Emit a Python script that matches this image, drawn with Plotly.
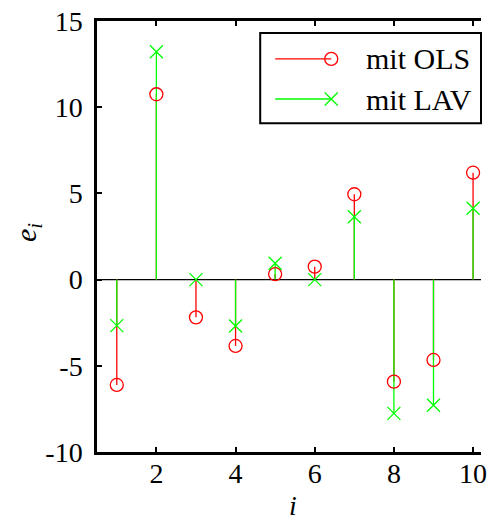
import plotly.graph_objects as go

idx = [1, 2, 3, 4, 5, 6, 7, 8, 9, 10]
ols = [-6.11, 10.75, -2.19, -3.85, 0.32, 0.75, 4.95, -5.92, -4.66, 6.2]
lav = [-2.67, 13.22, 0.0, -2.69, 0.95, 0.0, 3.65, -7.76, -7.29, 4.14]
names = ["mit OLS", "mit LAV"]
colors = ["#ff0000", "#00ff00"]
symbols = ["circle-open", "x-thin-open"]
xticks = [2, 4, 6, 8, 10]
yticks = [-10, -5, 0, 5, 10, 15]
ytick_text = ["-10", "-5", "0", "5", "10", "15"]

FONT = "'Liberation Serif', 'DejaVu Serif', serif"
FS = 28

def stems(xs, ys):
    sx, sy = [], []
    for a, b in zip(xs, ys):
        sx += [a, a, None]
        sy += [0, b, None]
    return sx, sy

fig = go.Figure()
for ser, col in zip([ols, lav], colors):
    sx, sy = stems(idx, ser)
    fig.add_trace(go.Scatter(x=sx, y=sy, mode="lines", line=dict(color=col, width=1.3),
                             showlegend=False, hoverinfo="skip"))
for ser, col, sym, nm in zip([ols, lav], colors, symbols, names):
    fig.add_trace(go.Scatter(x=idx, y=ser, mode="markers", name=nm, showlegend=False,
                             marker=dict(symbol=sym, size=13, color=col,
                                         line=dict(color=col, width=1.3))))

# manual legend (overlay axes spanning the plot area, range 0..1 = paper)
leg_y = [0.912, 0.819]
for y, col, sym, nm in zip(leg_y, colors, symbols, names):
    fig.add_trace(go.Scatter(x=[0.464, 0.61], y=[y, y], mode="lines",
                             line=dict(color=col, width=1.3), xaxis="x2", yaxis="y2",
                             showlegend=False, hoverinfo="skip"))
    fig.add_trace(go.Scatter(x=[0.61], y=[y], mode="markers", xaxis="x2", yaxis="y2",
                             marker=dict(symbol=sym, size=13, color=col,
                                         line=dict(color=col, width=1.3)),
                             showlegend=False, hoverinfo="skip"))
    fig.add_annotation(x=0.695, y=y, xref="paper", yref="paper", text=nm,
                       showarrow=False, xanchor="left", yanchor="middle",
                       font=dict(family=FONT, size=30, color="black"))

fig.add_shape(type="rect", xref="paper", yref="paper", x0=0.425, x1=1.0, y0=0.763, y1=0.972,
              line=dict(color="black", width=2), fillcolor="rgba(0,0,0,0)", layer="above")
fig.add_shape(type="line", xref="paper", yref="y", x0=0, x1=1, y0=0, y1=0,
              line=dict(color="black", width=1.3), layer="below")

fig.add_annotation(x=-0.18, y=0.51, xref="paper", yref="paper",
                   text="<i>e</i><sub><i>i</i></sub>", textangle=-90, showarrow=False,
                   xanchor="center", yanchor="middle",
                   font=dict(family=FONT, size=30, color="black"))
fig.add_annotation(x=0.51, y=-0.125, xref="paper", yref="paper",
                   text="<i>i</i>", showarrow=False, xanchor="center", yanchor="middle",
                   font=dict(family=FONT, size=28, color="black"))

fig.update_layout(
    width=487, height=524,
    margin=dict(l=97, r=0, t=21, b=72, pad=0),
    plot_bgcolor="white", paper_bgcolor="white",
    font=dict(family=FONT, size=FS, color="black"),
    xaxis=dict(range=[0.5, 10.2], tickvals=xticks, ticks="inside", ticklen=5, tickwidth=2,
               showline=True, linewidth=2.5, linecolor="black", mirror="allticks",
               showgrid=False, zeroline=False, tickcolor="black", ticklabelstandoff=-5,
               ticklabeloverflow="allow"),
    yaxis=dict(range=[-10, 15], tickvals=yticks, ticktext=ytick_text, ticks="inside",
               ticklen=5, tickwidth=2,
               showline=True, linewidth=2.5, linecolor="black", mirror=False,
               showgrid=False, zeroline=False, tickcolor="black", ticklabelstandoff=6),
    xaxis2=dict(range=[0, 1], overlaying="x", visible=False, fixedrange=True),
    yaxis2=dict(range=[0, 1], overlaying="y", visible=False, fixedrange=True),
)

fig.write_html("out.html")
